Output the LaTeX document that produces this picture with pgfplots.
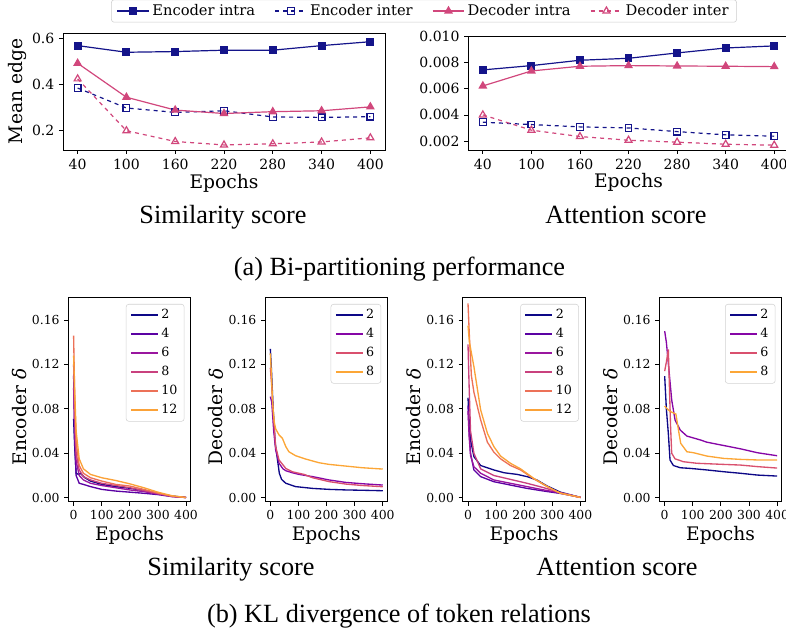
\documentclass[border=0pt]{standalone}
\usepackage{pgfplots}
\pgfplotsset{compat=1.18}
\usepackage{fontspec}
\setmainfont{DejaVu Serif}
\newfontfamily\capfont{Liberation Serif}
\definecolor{encC}{HTML}{14148A}
\definecolor{decC}{HTML}{D1477C}
\definecolor{sA}{HTML}{0D0887}
\definecolor{sB}{HTML}{5B02A3}
\definecolor{sC}{HTML}{9A169F}
\definecolor{sD}{HTML}{C9417E}
\definecolor{sE}{HTML}{EC7158}
\definecolor{sF}{HTML}{FBA238}
\definecolor{qB}{HTML}{8606A6}
\definecolor{qC}{HTML}{D9506E}
\definecolor{qD}{HTML}{FCA636}
\pgfplotsset{
  base/.style={scale only axis, axis line style={black,line width=0.6pt},
    tick style={black,line width=0.6pt}, major tick length=3pt, tick align=outside,
    tick pos=left, scaled ticks=false, clip=true},
  toptick/.style={ticklabel style={font=\fontsize{10.5}{12}\selectfont}},
  bottom/.style={base, anchor=south west, width=91.9pt, height=153.3pt,
    xmin=-19, xmax=417, ymin=-0.0036, ymax=0.1804,
    xtick={0,100,200,300,400}, xticklabels={0,100,200,300,400},
    ytick={0,0.04,0.08,0.12,0.16}, yticklabels={0.00,0.04,0.08,0.12,0.16},
    ticklabel style={font=\fontsize{9.3}{11}\selectfont},
    xlabel={Epochs}, label style={font=\fontsize{14}{16}\selectfont},
    xlabel style={at={(axis description cs:0.5,-0.1874)}, anchor=base},
    ylabel style={at={(axis description cs:-0.343,0.415)}, anchor=base},
    legend style={at={(axis description cs:1,1)}, anchor=north east, xshift=-4.8pt, yshift=-5pt,
      draw=gray!35, rounded corners=2pt, font=\fontsize{9.5}{11}\selectfont, inner xsep=3pt, inner ysep=2pt, row sep=1.7pt},
    legend cell align=left,
    legend image code/.code={\draw[#1,line width=1.4pt] (0pt,0pt) -- (20pt,0pt);},
    every axis plot/.append style={line width=1pt}},
}
\begin{document}
\begin{tikzpicture}
\useasboundingbox (0,0) rectangle (589.5pt,475.5pt);
% ---------- top left
\begin{axis}[base, toptick, at={(47.25pt,363pt)}, anchor=south west, width=241.5pt, height=87.75pt,
  xmin=22, xmax=418, ymin=0.113, ymax=0.623,
  xtick={40,100,160,220,280,340,400}, xticklabels={40,100,160,220,280,340,400},
  ytick={0.2,0.4,0.6}, yticklabels={0.2,0.4,0.6},
  xlabel={Epochs}, ylabel={Mean edge}, label style={font=\fontsize{14}{16}\selectfont},
  xlabel style={at={(axis description cs:0.5,-0.333)}, anchor=base},
  ylabel style={at={(axis description cs:-0.127,0.5)}, anchor=base},
  legend columns=4,
  legend style={at={(axis description cs:1.1211,1.188)}, anchor=center, draw=gray!40, rounded corners=2pt,
    font=\fontsize{11}{13}\selectfont, /tikz/every even column/.append style={column sep=12.5pt}, inner xsep=4pt, inner ysep=1.5pt},
  legend cell align=left,
  legend image code/.code={\draw[line width=0.9pt,mark repeat=2,mark phase=2,#1] plot coordinates {(0pt,0pt) (11.9pt,0pt) (23.8pt,0pt)};},
  every axis plot/.append style={line width=0.9pt}]
\addplot[encC, mark=square*, mark size=2.5pt] coordinates {(40,0.568) (100,0.539) (160,0.542) (220,0.548) (280,0.548) (340,0.568) (400,0.585)};
\addlegendentry{Encoder intra}
\addplot[encC, dashed, mark=square, mark size=2.5pt, mark options={solid, fill=white}] coordinates {(40,0.383) (100,0.296) (160,0.277) (220,0.284) (280,0.257) (340,0.255) (400,0.258)};
\addlegendentry{Encoder inter}
\addplot[decC, mark=triangle*, mark size=3pt] coordinates {(40,0.491) (100,0.343) (160,0.287) (220,0.272) (280,0.280) (340,0.284) (400,0.301)};
\addlegendentry{Decoder intra}
\addplot[decC, dashed, mark=triangle, mark size=3pt, mark options={solid, fill=white}] coordinates {(40,0.423) (100,0.197) (160,0.150) (220,0.135) (280,0.140) (340,0.148) (400,0.166)};
\addlegendentry{Decoder inter}
\end{axis}
% ---------- top right
\begin{axis}[base, toptick, at={(351.2pt,363pt)}, anchor=south west, width=240.4pt, height=85.5pt,
  xmin=22, xmax=418, ymin=0.00131, ymax=0.01005,
  xtick={40,100,160,220,280,340,400}, xticklabels={40,100,160,220,280,340,400},
  ytick={0.002,0.004,0.006,0.008,0.010}, yticklabels={0.002,0.004,0.006,0.008,0.010},
  xlabel={Epochs}, label style={font=\fontsize{14}{16}\selectfont},
  xlabel style={at={(axis description cs:0.5,-0.333)}, anchor=base},
  every axis plot/.append style={line width=0.9pt}]
\addplot[encC, mark=square*, mark size=2.5pt] coordinates {(40,0.00745) (100,0.00778) (160,0.00819) (220,0.00834) (280,0.00875) (340,0.00913) (400,0.00929)};
\addplot[encC, dashed, mark=square, mark size=2.5pt, mark options={solid, fill=white}] coordinates {(40,0.00344) (100,0.00326) (160,0.00308) (220,0.00300) (280,0.00272) (340,0.00247) (400,0.00237)};
\addplot[decC, mark=triangle*, mark size=3pt] coordinates {(40,0.00622) (100,0.00737) (160,0.00773) (220,0.00778) (280,0.00775) (340,0.00773) (400,0.00770)};
\addplot[decC, dashed, mark=triangle, mark size=3pt, mark options={solid, fill=white}] coordinates {(40,0.00400) (100,0.00283) (160,0.00234) (220,0.00206) (280,0.00191) (340,0.00175) (400,0.00168)};
\end{axis}
% ---------- bottom 1: similarity encoder
\begin{axis}[bottom, at={(51.2pt,99.2pt)}, ylabel={Encoder \textit{δ}}]
\addplot[sA] coordinates {(0,0.071) (4,0.045) (9,0.022) (18,0.021) (24,0.022) (40,0.018) (60,0.015) (100,0.012) (150,0.010) (200,0.0085) (250,0.0065) (300,0.004) (350,0.0015) (400,0.0003)};
\addlegendentry{2}
\addplot[sB] coordinates {(0,0.11) (4,0.05) (9,0.02) (20,0.013) (35,0.012) (60,0.010) (100,0.0075) (150,0.006) (200,0.005) (250,0.004) (300,0.0028) (350,0.001) (400,0.0002)};
\addlegendentry{4}
\addplot[sC] coordinates {(0,0.099) (4,0.06) (9,0.033) (20,0.020) (35,0.016) (60,0.013) (100,0.011) (150,0.009) (200,0.007) (250,0.0055) (300,0.0033) (350,0.0012) (400,0.0002)};
\addlegendentry{6}
\addplot[sD] coordinates {(0,0.12) (4,0.075) (9,0.04) (20,0.025) (35,0.019) (60,0.016) (100,0.013) (150,0.011) (200,0.009) (250,0.0065) (300,0.0037) (350,0.0012) (400,0.0002)};
\addlegendentry{8}
\addplot[sE] coordinates {(0,0.146) (4,0.09) (9,0.05) (20,0.029) (35,0.022) (60,0.018) (100,0.015) (150,0.012) (200,0.0105) (250,0.0075) (300,0.0042) (350,0.0014) (400,0.0002)};
\addlegendentry{10}
\addplot[sF] coordinates {(0,0.128) (4,0.095) (9,0.06) (20,0.035) (35,0.026) (60,0.021) (100,0.018) (150,0.0155) (200,0.0125) (250,0.009) (300,0.005) (350,0.0018) (400,0.0002)};
\addlegendentry{12}
\end{axis}
% ---------- bottom 2: similarity decoder
\begin{axis}[bottom, at={(198.75pt,99.2pt)}, ylabel={Decoder \textit{δ}}]
\addplot[sA] coordinates {(0,0.134) (4,0.115) (10,0.08) (17,0.05) (25,0.035) (32,0.022) (40,0.0165) (55,0.013) (90,0.010) (150,0.0084) (210,0.0075) (270,0.007) (330,0.0067) (400,0.0063)};
\addlegendentry{2}
\addplot[qB] coordinates {(0,0.091) (5,0.086) (12,0.06) (19,0.043) (31,0.031) (45,0.026) (55,0.0243) (78,0.0225) (102,0.021) (150,0.019) (209,0.016) (268,0.0138) (327,0.0126) (400,0.0114)};
\addlegendentry{4}
\addplot[qC] coordinates {(0,0.117) (5,0.1) (12,0.07) (19,0.046) (31,0.034) (55,0.0264) (78,0.0234) (102,0.022) (120,0.021) (150,0.018) (209,0.0145) (268,0.0123) (327,0.011) (400,0.0099)};
\addlegendentry{6}
\addplot[qD] coordinates {(0,0.13) (4,0.11) (8,0.085) (14,0.068) (19,0.062) (31,0.0565) (43,0.0535) (55,0.046) (66,0.0414) (90,0.0378) (126,0.0348) (173,0.0315) (209,0.030) (268,0.0285) (327,0.027) (400,0.0258)};
\addlegendentry{8}
\end{axis}
% ---------- bottom 3: attention encoder
\begin{axis}[bottom, at={(347pt,99.2pt)}, ylabel={Encoder \textit{δ}}]
\addplot[sA] coordinates {(0,0.09) (4,0.07) (9,0.052) (21,0.037) (45,0.029) (92,0.025) (128,0.0225) (175,0.021) (210,0.019) (245,0.016) (282,0.0105) (329,0.005) (400,0.0003)};
\addlegendentry{2}
\addplot[sB] coordinates {(0,0.083) (4,0.06) (9,0.04) (21,0.025) (45,0.019) (92,0.0144) (151,0.0114) (210,0.0084) (270,0.006) (330,0.0038) (400,0.0004)};
\addlegendentry{4}
\addplot[sC] coordinates {(0,0.078) (4,0.055) (9,0.038) (21,0.028) (45,0.022) (92,0.016) (151,0.013) (210,0.010) (270,0.007) (330,0.0043) (400,0.0003)};
\addlegendentry{6}
\addplot[sD] coordinates {(0,0.138) (4,0.10) (9,0.06) (21,0.040) (45,0.026) (92,0.020) (151,0.0165) (210,0.013) (270,0.009) (330,0.0045) (400,0.0002)};
\addlegendentry{8}
\addplot[sE] coordinates {(0,0.175) (5,0.145) (12,0.11) (21,0.095) (45,0.070) (69,0.050) (92,0.041) (116,0.035) (151,0.029) (187,0.025) (234,0.017) (282,0.010) (329,0.004) (400,0.0003)};
\addlegendentry{10}
\addplot[sF] coordinates {(0,0.155) (5,0.14) (21,0.118) (45,0.079) (69,0.058) (92,0.046) (116,0.0375) (151,0.031) (187,0.026) (234,0.0174) (282,0.010) (329,0.004) (400,0.0003)};
\addlegendentry{12}
\end{axis}
% ---------- bottom 4: attention decoder
\begin{axis}[bottom, at={(494.5pt,99.2pt)}, ylabel={Decoder \textit{δ}}]
\addplot[sA] coordinates {(0,0.1095) (6,0.08) (13,0.058) (19,0.034) (31,0.029) (55,0.027) (91,0.0264) (150,0.025) (210,0.0234) (270,0.022) (330,0.0204) (400,0.0195)};
\addlegendentry{2}
\addplot[qB] coordinates {(0,0.150) (6,0.14) (13,0.121) (25,0.088) (37,0.070) (55,0.061) (79,0.0555) (127,0.052) (150,0.050) (210,0.047) (270,0.044) (330,0.0405) (400,0.0378)};
\addlegendentry{4}
\addplot[qC] coordinates {(0,0.114) (6,0.122) (13,0.1335) (21,0.064) (25,0.040) (37,0.035) (67,0.0324) (115,0.031) (210,0.030) (270,0.0294) (330,0.028) (400,0.0267)};
\addlegendentry{6}
\addplot[qD] coordinates {(0,0.0825) (13,0.079) (25,0.077) (40,0.0753) (49,0.061) (57,0.049) (79,0.0414) (103,0.0405) (150,0.0375) (210,0.0354) (270,0.0345) (330,0.034) (400,0.034)};
\addlegendentry{8}
\end{axis}
% ---------- captions
\begin{scope}[every node/.style={anchor=base, font=\capfont\fontsize{19.7}{22}\selectfont, inner sep=0pt}]
\node at (167.25pt,307.5pt) {Similarity score};
\node at (469.5pt,307.5pt) {Attention score};
\node at (299.6pt,268.5pt) {(a) Bi-partitioning performance};
\node at (173.25pt,43.5pt) {Similarity score};
\node at (462.75pt,43.5pt) {Attention score};
\node at (299.25pt,8.25pt) {(b) KL divergence of token relations};
\end{scope}
\end{tikzpicture}
\end{document}
